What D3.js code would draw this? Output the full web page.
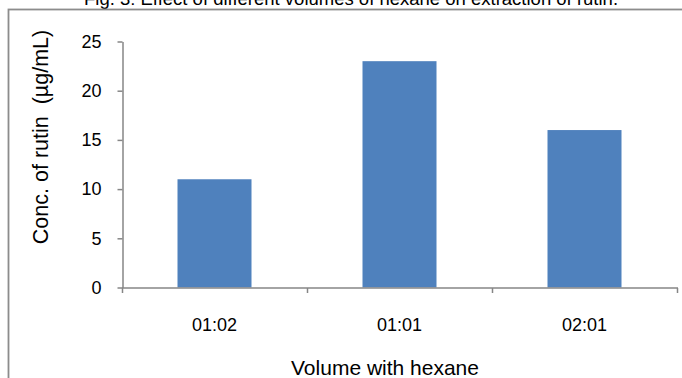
<!DOCTYPE html>
<html>
<head>
<meta charset="utf-8">
<script src="https://cdn.jsdelivr.net/npm/d3@7"></script>
<style>
  html, body { margin: 0; padding: 0; background: #fff; overflow: hidden; }
  svg { display: block; font-family: "Liberation Sans", Arial, sans-serif; }
</style>
</head>
<body>
<svg id="chart" width="682" height="378"></svg>
<script>
// Rutin concentration by sample-to-hexane volume ratio
const categories = ["01:02", "01:01", "02:01"];
const values = [11, 23, 16];
const yTicks = [0, 5, 10, 15, 20, 25];

const svg = d3.select("#chart");
const plot = { left: 122, right: 677, top: 41.5, bottom: 287.5 };
const axisColor = "#868686";

// caption above the frame
svg.append("text")
  .attr("x", 351).attr("y", 5)
  .attr("text-anchor", "middle")
  .attr("font-size", 18.5)
  .attr("fill", "#000")
  .text("Fig. 3: Effect of different volumes of hexane on extraction of rutin.");

// chart frame
svg.append("rect")
  .attr("x", 8.5).attr("y", 9.5)
  .attr("width", 690).attr("height", 390)
  .attr("fill", "none")
  .attr("stroke", "#8c8c8c")
  .attr("stroke-width", 1.8);

const x = d3.scaleBand()
  .domain(categories)
  .range([plot.left, plot.right])
  .paddingInner(0.6)
  .paddingOuter(0.3);

const y = d3.scaleLinear()
  .domain([0, 25])
  .range([plot.bottom, plot.top]);

// bars
svg.append("g").selectAll("rect")
  .data(values)
  .join("rect")
  .attr("x", (d, i) => x(categories[i]))
  .attr("y", d => y(d))
  .attr("width", x.bandwidth())
  .attr("height", d => y(0) - y(d))
  .attr("fill", "#4F81BD");

// y axis
const yAxis = svg.append("g")
  .attr("transform", `translate(${plot.left + 0.5},0)`)
  .call(d3.axisLeft(y).tickValues(yTicks).tickSize(5).tickPadding(16).tickSizeOuter(0));
yAxis.select(".domain").attr("stroke", axisColor).attr("stroke-width", 1.5);
yAxis.selectAll(".tick line").attr("stroke", axisColor).attr("stroke-width", 1.5);
yAxis.selectAll(".tick text").attr("font-size", 18).attr("fill", "#000")
  .attr("font-family", "Liberation Sans, Arial, sans-serif");

// x axis with ticks at category boundaries
const xBoundary = d3.scaleLinear().domain([0, categories.length]).range([plot.left, plot.right]);
const xAxis = svg.append("g").attr("transform", `translate(0,${y(0) + 0.5})`);
xAxis.append("line")
  .attr("x1", xBoundary(0)).attr("x2", xBoundary(categories.length) + 1)
  .attr("stroke", axisColor).attr("stroke-width", 1.5);
xAxis.selectAll("line.tk")
  .data(d3.range(categories.length + 1))
  .join("line")
  .attr("class", "tk")
  .attr("x1", d => Math.round(xBoundary(d)) + 0.5)
  .attr("x2", d => Math.round(xBoundary(d)) + 0.5)
  .attr("y1", 0).attr("y2", 5)
  .attr("stroke", axisColor).attr("stroke-width", 1.5);
xAxis.selectAll("text")
  .data(categories)
  .join("text")
  .attr("x", d => x(d) + x.bandwidth() / 2)
  .attr("y", 43)
  .attr("text-anchor", "middle")
  .attr("font-size", 18)
  .attr("fill", "#000")
  .text(d => d);

// axis titles
svg.append("text")
  .attr("transform", "translate(48,137) rotate(-90)")
  .attr("text-anchor", "middle")
  .attr("font-size", 21.5)
  .attr("fill", "#000")
  .attr("xml:space", "preserve")
  .style("white-space", "pre")
  .text("Conc. of rutin  (µg/mL)");

svg.append("text")
  .attr("x", 385).attr("y", 375)
  .attr("text-anchor", "middle")
  .attr("font-size", 21)
  .attr("fill", "#000")
  .text("Volume with hexane");
</script>
</body>
</html>
